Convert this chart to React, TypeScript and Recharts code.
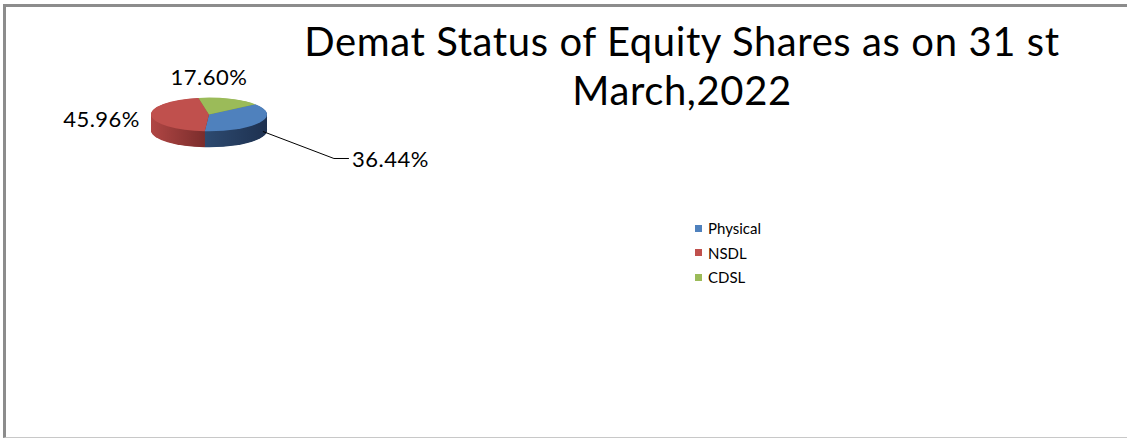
import React from "react";
import { PieChart, Pie, Cell } from "recharts";

// chart data
const categories = ["Physical", "NSDL", "CDSL"];
const shares = [36.44, 45.96, 17.6];
const topColors = ["#4f81bd", "#c0504d", "#9bbb59"];
const sideColors = ["url(#sideBlue)", "url(#sideRed)", "#76923c"];
const titleLines = ["Demat Status of Equity Shares as on 31 st", "March,2022"];

const data = categories.map((name, i) => ({ name, value: shares[i] }));

// 3d look: squash the pie vertically and stack darker copies for the side
const S = 0.29;
const R = 58;
const CX = 204;
const CY = 113 / S;
const THICK = 16 / S;
const START = 37;
const layers: number[] = [];
for (let o = THICK; o > 0; o -= 2) layers.push(o);

const FONT = "Lato, 'Liberation Sans', sans-serif";

const renderLabel = (props: any) => {
  const { cx, cy, midAngle, index, value } = props;
  const rad = (midAngle * Math.PI) / 180;
  const ux = Math.cos(rad);
  const uy = -Math.sin(rad);
  const cyR = cy * S;
  const ex = cx + R * ux;
  const ey = cyR + R * S * uy;
  const txt = `${Number(value).toFixed(2)}%`;
  const style = { fontFamily: FONT, fontSize: 22, fill: "#000", letterSpacing: 0.5 };
  let content;
  if (uy < -0.6) {
    content = (
      <text x={cx} y={cyR - R * S - 21} textAnchor="middle" dominantBaseline="central" style={style}>
        {txt}
      </text>
    );
  } else if (ux < -0.6) {
    content = (
      <text x={cx - R - 11} y={ey + 3} textAnchor="end" dominantBaseline="central" style={style}>
        {txt}
      </text>
    );
  } else {
    const x0 = ex + 3;
    const y0 = ey + 9;
    const x1 = x0 + 71;
    const y1 = y0 + 27;
    const x2 = x1 + 15;
    content = (
      <g>
        <polyline points={`${x0},${y0} ${x1},${y1} ${x2},${y1}`} fill="none" stroke="#000" strokeWidth={1} />
        <text x={x2 + 3} y={y1} textAnchor="start" dominantBaseline="central" style={style}>
          {txt}
        </text>
      </g>
    );
  }
  return (
    <g key={`lbl-${index}`} transform={`scale(1, ${1 / S})`}>
      {content}
    </g>
  );
};

const App = () => {
  return (
    <div style={{ position: "absolute", left: 0, top: 0, width: 1127, height: 439, background: "#fff", overflow: "hidden" }}>
      <div
        style={{
          position: "absolute",
          left: 3,
          top: 4,
          width: 1140,
          height: 430,
          borderTop: "3px solid #8c8c8c",
          borderLeft: "3px solid #8c8c8c",
          borderBottom: "1px solid #c8c8c8",
        }}
      />
      <div style={{ position: "absolute", left: 0, top: 0, transform: `scaleY(${S})`, transformOrigin: "0 0" }}>
        <PieChart width={480} height={620}>
          <defs>
            <linearGradient id="sideRed" x1="0" y1="0" x2="1" y2="0">
              <stop offset="0%" stopColor="#b04644" />
              <stop offset="100%" stopColor="#772b2a" />
            </linearGradient>
            <linearGradient id="sideBlue" x1="0" y1="0" x2="1" y2="0">
              <stop offset="0%" stopColor="#2d4a70" />
              <stop offset="100%" stopColor="#1e3150" />
            </linearGradient>
          </defs>
          {layers.map((o) => (
            <Pie
              key={`side-${o}`}
              data={data}
              dataKey="value"
              cx={CX}
              cy={CY + o}
              outerRadius={R}
              startAngle={START}
              endAngle={START - 360}
              stroke="none"
              isAnimationActive={false}
            >
              {data.map((d, i) => (
                <Cell key={d.name} fill={sideColors[i]} />
              ))}
            </Pie>
          ))}
          <Pie
            data={data}
            dataKey="value"
            cx={CX}
            cy={CY}
            outerRadius={R}
            startAngle={START}
            endAngle={START - 360}
            stroke="none"
            label={renderLabel}
            labelLine={false}
            isAnimationActive={false}
          >
            {data.map((d, i) => (
              <Cell key={d.name} fill={topColors[i]} />
            ))}
          </Pie>
        </PieChart>
      </div>
      <svg width={1127} height={439} style={{ position: "absolute", left: 0, top: 0, pointerEvents: "none" }}>
        {titleLines.map((t, i) => (
          <text
            key={t}
            x={682}
            y={56 + i * 49}
            textAnchor="middle"
            style={{ fontFamily: FONT, fontSize: 40, fill: "#000", letterSpacing: 0.6 }}
          >
            {t}
          </text>
        ))}
      </svg>
      <div style={{ position: "absolute", left: 695, top: 216, fontFamily: FONT, fontSize: 15, color: "#000" }}>
        {categories.map((c, i) => (
          <div key={c} style={{ display: "flex", alignItems: "center", height: 24.5 }}>
            <span style={{ display: "inline-block", width: 7, height: 7, background: topColors[i], marginRight: 6 }} />
            <span>{c}</span>
          </div>
        ))}
      </div>
    </div>
  );
};

export default App;
